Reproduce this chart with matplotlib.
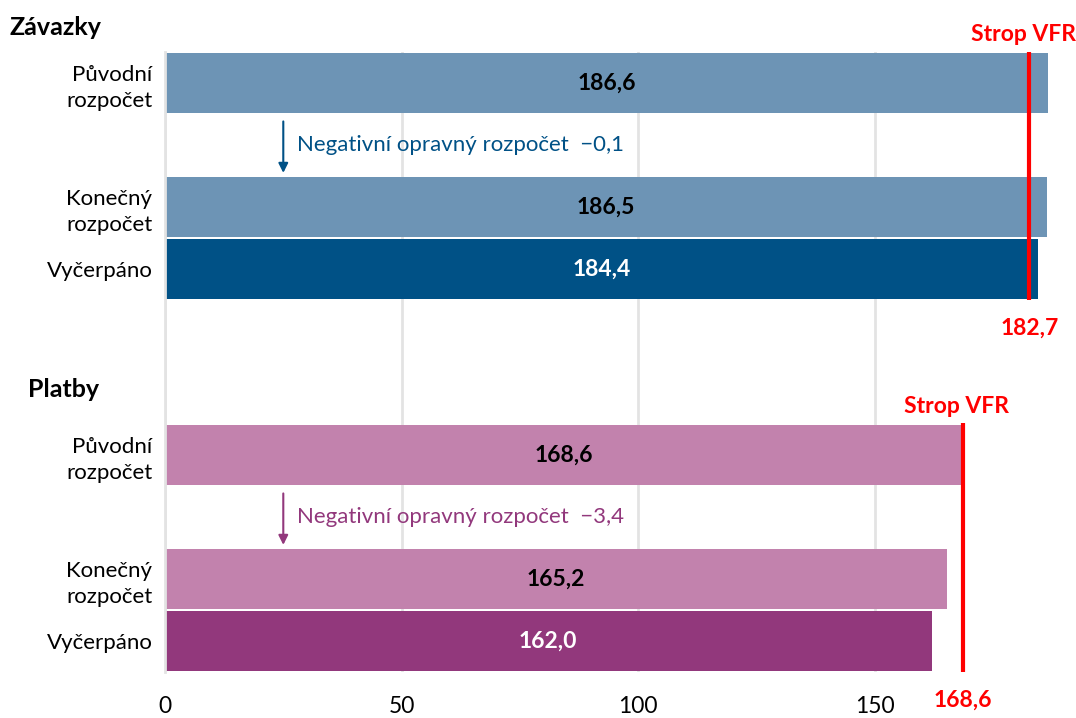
import numpy as np
import matplotlib.pyplot as plt
import matplotlib.transforms as mtransforms

# values (mld. EUR)
categories = ["Původní\nrozpočet", "Konečný\nrozpočet", "Vyčerpáno"]
zavazky = [186.6, 186.5, 184.4]
platby = [168.6, 165.2, 162.0]
zavazky_strop = 182.7
platby_strop = 168.6
zavazky_oprava = -0.1
platby_oprava = -3.4
xticks = [0, 50, 100, 150]

font = "Lato"
plt.rcParams['font.family'] = [font, 'DejaVu Sans']

blue_light = "#6d94b5"
blue_dark = "#005186"
pink_light = "#c282ad"
pink_dark = "#92387c"
red = "#ff0000"

fig = plt.figure(figsize=(10.76, 7.18), dpi=100)
ax = fig.add_axes([165/1076, 46/718, 899/1076, 620/718])
title_tr = mtransforms.blended_transform_factory(fig.transFigure, ax.transData)

# row positions: 0,2,3 for Závazky; 6,8,9 for Platby (1 and 7 hold the arrow)
groups = [
    ("Závazky", zavazky, zavazky_strop, zavazky_oprava, [0, 2, 3], blue_light, blue_dark, 10, -0.9),
    ("Platby", platby, platby_strop, platby_oprava, [6, 8, 9], pink_light, pink_dark, 28, 4.95),
]
ticks_y = []
ticks_lab = []
for name, vals, strop, oprava, rows, c1, c2, tx, ty in groups:
    colors = [c1, c1, c2]
    ax.barh(rows, vals, height=0.96, color=colors, zorder=2)
    for r, v, c in zip(rows, vals, colors):
        ax.text(v / 2, r, ("%.1f" % v).replace(".", ","), ha="center", va="center",
                fontsize=16.5, fontweight="bold", color="white" if c == c2 else "black", zorder=3)
    ax.plot([strop, strop], [rows[0] - 0.52, rows[2] + 0.5], color=red, lw=3, zorder=4,
            solid_capstyle="butt")
    ax.text(strop - 1.3, rows[0] - 0.62, "Strop VFR", ha="center", va="bottom", color=red,
            fontsize=16.5, fontweight="bold", clip_on=False)
    ax.text(strop, rows[2] + 0.95, ("%.1f" % strop).replace(".", ","), ha="center", va="center",
            color=red, fontsize=16.5, fontweight="bold", clip_on=False)
    ar = rows[0] + 1
    ax.annotate("", xy=(25, ar + 0.45), xytext=(25, ar - 0.38),
                arrowprops=dict(arrowstyle="-|>", color=c2, lw=1.5, mutation_scale=14,
                                shrinkA=0, shrinkB=0))
    ax.text(28, ar, "Negativní opravný rozpočet  " + ("%.1f" % oprava).replace(".", ",").replace("-", "−"),
            ha="left", va="center", color=c2, fontsize=16)
    fig.text(tx / 1076, ty, name, transform=title_tr, ha="left", va="center",
             fontsize=18, fontweight="bold")
    ticks_y += rows
    ticks_lab += categories

ax.set_xlim(0, 190)
ax.set_ylim(9.5, -0.5)
ax.set_yticks(ticks_y)
ax.set_yticklabels(ticks_lab, fontsize=16, linespacing=1.35, ha="right")
ax.set_xticks(xticks)
ax.set_xticklabels([str(t) for t in xticks], fontsize=16.5)
ax.tick_params(axis="y", length=0, pad=9)
ax.tick_params(axis="x", length=0, pad=17)
ax.grid(axis="x", color="#e3e3e3", lw=2, zorder=0)
ax.set_axisbelow(True)
for s in ["top", "right", "bottom"]:
    ax.spines[s].set_visible(False)
ax.spines["left"].set_color("#e3e3e3")
ax.spines["left"].set_linewidth(2)

fig.savefig("out.png", dpi=100)
